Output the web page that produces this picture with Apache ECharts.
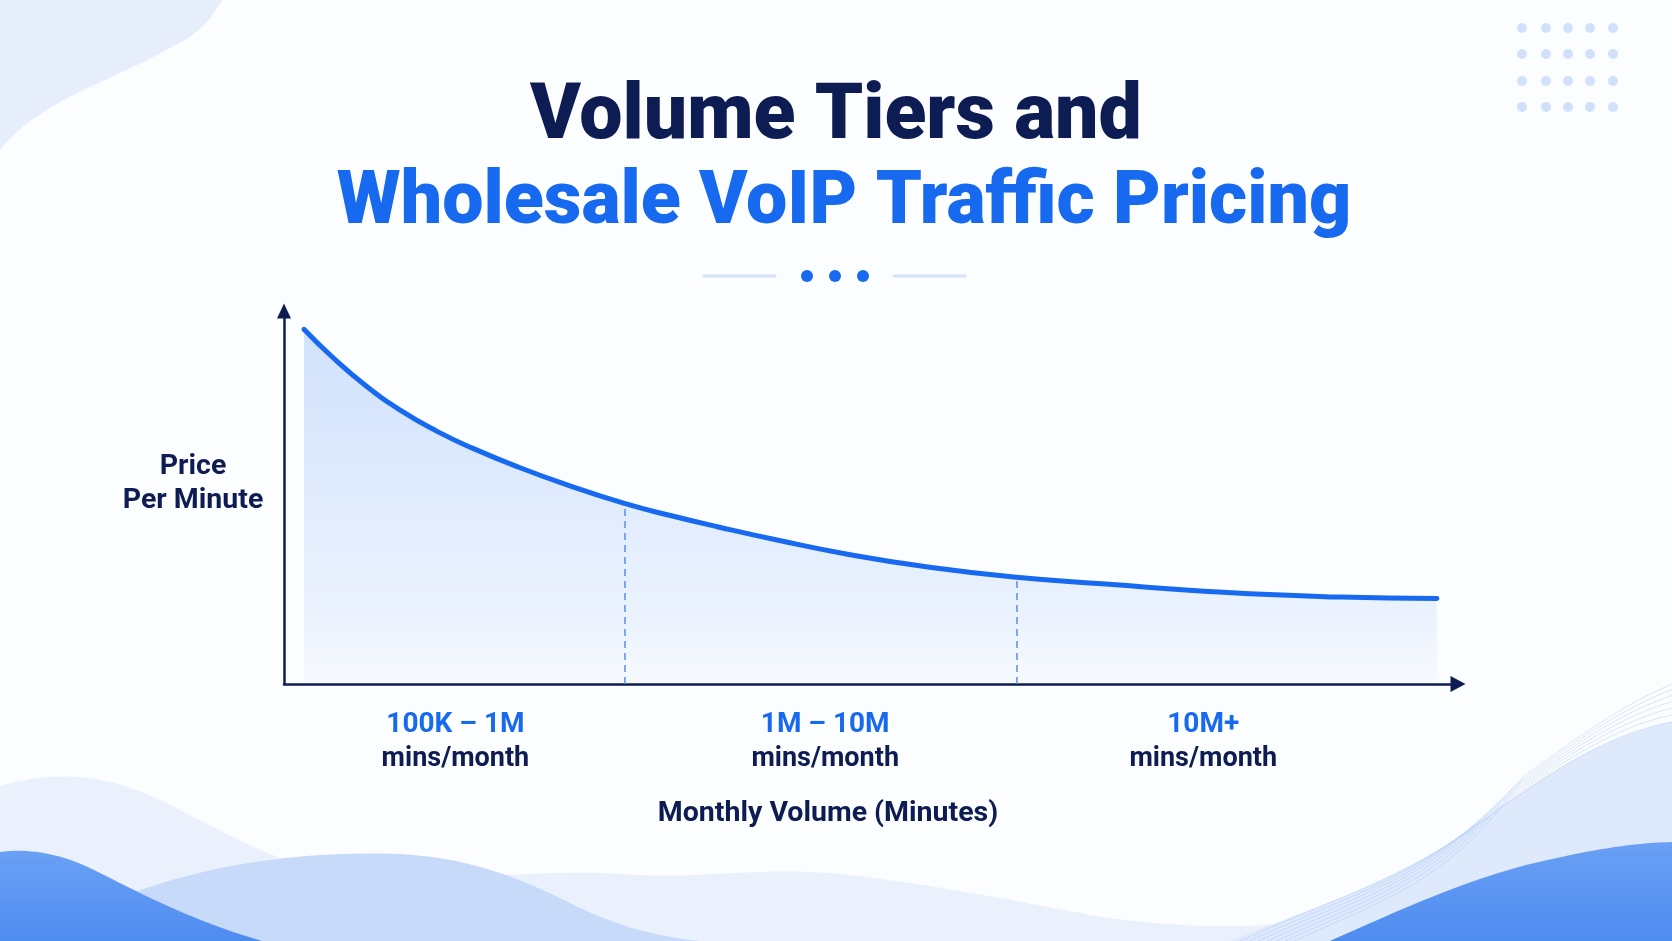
<!DOCTYPE html>
<html>
<head>
<meta charset="utf-8">
<title>Volume Tiers and Wholesale VoIP Traffic Pricing</title>
<script src="https://cdn.jsdelivr.net/npm/echarts@6/dist/echarts.min.js"></script>
<style>
  html, body { margin: 0; padding: 0; background: #fcfdff; }
  #chart { width: 1672px; height: 941px; }
</style>
</head>
<body>
<div id="chart"></div>
<script>
// price curve (x: position on the volume axis 0-100, y: price level 0-100)
const volume = [1.7, 4, 7, 10, 13, 16, 20, 24, 29, 33, 37, 42, 48, 55, 62.4, 70, 80, 90, 98.2];
const price = [95.1, 88.0, 79.9, 73.2, 67.8, 63.3, 58.1, 53.5, 48.4, 45.1, 42.1, 38.6, 34.8, 31.3, 28.6, 26.8, 24.6, 23.3, 22.9];

// tier boundaries (dashed lines) and the price where they meet the curve
const tierBounds = [29, 62.4];
const boundPrice = [48.4, 28.6];

// tier labels on the volume axis
const tierNames = ['100K – 1M', '1M – 10M', '10M+'];
const tierCenters = [14.6, 46.1, 78.3];

const NAVY = '#0d1c52';
const BLUE = '#1769f0';
const FONT = 'Roboto, Inter, sans-serif';

const chart = echarts.init(document.getElementById('chart'));

// turn a small 'M x,y C ... L ... Z' path into points for polygon / polyline
function pathPoints(d) {
  const t = d.match(/[MCLZ]|-?\d+(\.\d+)?/g);
  const pts = [];
  let i = 0, cmd = '', cx = 0, cy = 0;
  while (i < t.length) {
    if (/[MCLZ]/.test(t[i])) { cmd = t[i++]; if (cmd === 'Z') continue; }
    if (cmd === 'M' || cmd === 'L') {
      cx = +t[i]; cy = +t[i + 1]; i += 2;
      pts.push([cx, cy]);
    } else if (cmd === 'C') {
      const x1 = +t[i], y1 = +t[i + 1], x2 = +t[i + 2], y2 = +t[i + 3], x3 = +t[i + 4], y3 = +t[i + 5];
      i += 6;
      for (let k = 1; k <= 20; k++) {
        const s = k / 20, r = 1 - s;
        pts.push([
          r * r * r * cx + 3 * r * r * s * x1 + 3 * r * s * s * x2 + s * s * s * x3,
          r * r * r * cy + 3 * r * r * s * y1 + 3 * r * s * s * y2 + s * s * s * y3
        ]);
      }
      cx = x3; cy = y3;
    } else {
      i++;
    }
  }
  return pts;
}

function shape(d, fill, z) {
  return {type: 'polygon', z: z, silent: true, shape: {points: pathPoints(d)}, style: {fill: fill}};
}

const waveFill = new echarts.graphic.LinearGradient(0, 0, 0, 1, [
  {offset: 0, color: '#6aa0f5'},
  {offset: 1, color: '#4f8cf0'}
]);

// light dots in the top right corner
const dots = [];
[1522, 1546, 1568, 1590, 1613].forEach(function (x) {
  [28, 54, 81, 107].forEach(function (y) {
    dots.push({
      type: 'circle', z: -5, silent: true,
      shape: {cx: x, cy: y, r: 5},
      style: {fill: '#c9dafa', opacity: 0.85}
    });
  });
});

// thin contour lines in the right wave
const waveLines = [];
for (let i = 0; i < 7; i++) {
  const d = i * 9;
  waveLines.push({
    type: 'polyline', z: -6, silent: true,
    shape: {points: pathPoints('M' + (1240 + d) + ',941 C' + (1330 + d) + ',900 ' + (1400 + d) + ',880 ' + (1470 + d) + ',' + (830 - d) + ' C' + (1540 + d) + ',' + (780 - d) + ' ' + (1600 + d) + ',' + (735 - d) + ' ' + (1672 + d) + ',' + (722 - d))},
    style: {fill: null, stroke: 'rgba(150,182,240,0.35)', lineWidth: 1}
  });
}

const option = {
  backgroundColor: '#fcfdff',
  title: [
    {
      text: 'Volume Tiers and',
      left: 831,
      textAlign: 'center',
      top: 74,
      textStyle: {color: NAVY, fontFamily: FONT, fontWeight: 900, fontSize: 77, lineHeight: 80}
    },
    {
      text: 'Wholesale VoIP Traffic Pricing',
      left: 839,
      textAlign: 'center',
      top: 160,
      textStyle: {color: BLUE, fontFamily: FONT, fontWeight: 900, fontSize: 73.5, lineHeight: 80}
    }
  ],
  graphic: [
    shape('M0,0 L222,0 C210,22 195,36 175,45 C150,60 125,70 105,80 C65,98 25,118 0,150 Z', '#e6eefc', -10),
    // bottom waves
    shape('M0,786 C55,770 105,774 160,800 C230,834 280,868 360,878 C430,886 520,868 620,874 C700,880 760,866 840,874 C930,884 1000,898 1080,913 C1150,926 1230,930 1300,922 L1672,905 L1672,941 L0,941 Z', '#eaf1fd', -9),
    shape('M110,902 C190,868 290,850 400,854 C470,858 520,878 570,903 C610,923 650,936 700,941 L110,941 Z', '#c8dafa', -8),
    shape('M0,852 C30,848 60,854 90,868 C140,893 190,920 262,941 L0,941 Z', waveFill, -7),
    shape('M1230,941 C1320,905 1395,882 1465,832 C1535,782 1600,736 1672,722 L1672,941 Z', '#dfe9fc', -7)
  ].concat(waveLines).concat([
    shape('M1330,941 C1400,910 1460,882 1530,864 C1590,850 1630,843 1672,842 L1672,941 Z', waveFill, -5),
    // divider under the title
    {type: 'line', silent: true, shape: {x1: 704, y1: 276, x2: 775, y2: 276}, style: {stroke: '#d6e2f6', lineWidth: 3, lineCap: 'round'}},
    {type: 'line', silent: true, shape: {x1: 894, y1: 276, x2: 965, y2: 276}, style: {stroke: '#d6e2f6', lineWidth: 3, lineCap: 'round'}},
    {type: 'circle', silent: true, shape: {cx: 807, cy: 276, r: 6}, style: {fill: BLUE}},
    {type: 'circle', silent: true, shape: {cx: 835, cy: 276, r: 6}, style: {fill: BLUE}},
    {type: 'circle', silent: true, shape: {cx: 863, cy: 276, r: 6}, style: {fill: BLUE}}
  ]).concat(dots),
  grid: {
    left: 284,
    right: 214,
    top: 311,
    bottom: 257
  },
  xAxis: {
    type: 'value',
    min: 0,
    max: 100,
    axisLine: {
      show: true,
      symbol: ['none', 'triangle'],
      symbolSize: [16, 15],
      lineStyle: {color: NAVY, width: 2.5}
    },
    axisTick: {show: false},
    splitLine: {show: false},
    axisLabel: {
      customValues: tierCenters,
      margin: 24,
      formatter: function (v) {
        const i = tierCenters.indexOf(v);
        return '{a|' + tierNames[i] + '}\n{b|mins/month}';
      },
      rich: {
        a: {color: BLUE, fontFamily: FONT, fontWeight: 700, fontSize: 28, lineHeight: 34},
        b: {color: NAVY, fontFamily: FONT, fontWeight: 700, fontSize: 27, lineHeight: 34}
      }
    },
    name: 'Monthly Volume (Minutes)',
    nameLocation: 'middle',
    nameGap: 115,
    nameTextStyle: {
      color: NAVY, fontFamily: FONT, fontWeight: 700, fontSize: 28.5, lineHeight: 30,
      padding: [0, 86, 0, 0]
    }
  },
  yAxis: {
    type: 'value',
    min: 0,
    max: 100,
    axisLine: {
      show: true,
      symbol: ['none', 'triangle'],
      symbolSize: [14, 15],
      lineStyle: {color: NAVY, width: 2.5}
    },
    axisTick: {show: false},
    axisLabel: {show: false},
    splitLine: {show: false},
    // trailing short blank line keeps the two visible lines a bit above the axis middle
    name: '{t|Price}\n{t|Per Minute}\n{e| }',
    nameLocation: 'middle',
    nameRotate: 0,
    nameGap: 91,
    nameTextStyle: {
      align: 'center', verticalAlign: 'middle',
      rich: {
        t: {color: NAVY, fontFamily: FONT, fontWeight: 700, fontSize: 28.5, lineHeight: 34, align: 'center'},
        e: {fontSize: 10, lineHeight: 28}
      }
    }
  },
  series: [
    {
      type: 'line',
      data: volume.map(function (x, i) { return [x, price[i]]; }),
      smooth: 0.5,
      symbol: 'none',
      silent: true,
      lineStyle: {color: BLUE, width: 5, cap: 'round'},
      areaStyle: {
        color: new echarts.graphic.LinearGradient(0, 0, 0, 1, [
          {offset: 0, color: 'rgba(26,110,240,0.27)'},
          {offset: 0.55, color: 'rgba(26,110,240,0.16)'},
          {offset: 0.8, color: 'rgba(26,110,240,0.11)'},
          {offset: 1, color: 'rgba(26,110,240,0.03)'}
        ])
      },
      markLine: {
        silent: true,
        symbol: ['none', 'none'],
        label: {show: false},
        lineStyle: {color: '#5a8fe6', width: 1.5, type: [7, 5]},
        data: tierBounds.map(function (x, i) {
          return [{coord: [x, 0]}, {coord: [x, boundPrice[i]]}];
        })
      }
    }
  ]
};

chart.setOption(option);
</script>
</body>
</html>
